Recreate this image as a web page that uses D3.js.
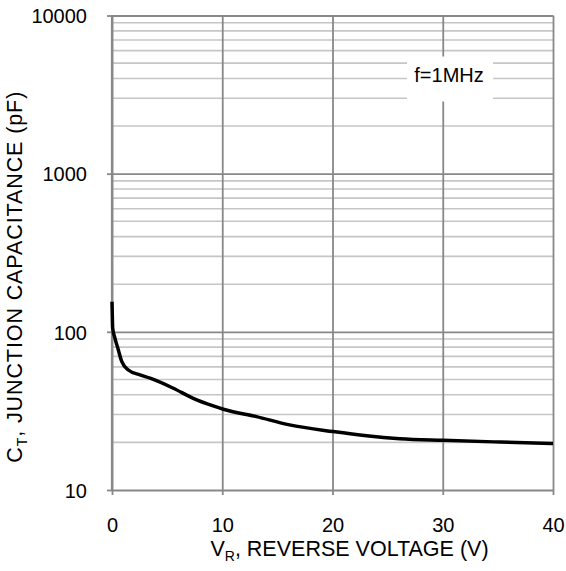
<!DOCTYPE html>
<html>
<head>
	<script src='https://d3js.org/d3.v7.min.js'></script>
	<style type="text/css">
		body { margin: 0; background: #fff; }
		text { font-family: 'Liberation Sans', Arial, sans-serif; fill: #000; }
		.domain { display: none; }
	</style>
</head>
<body>
	<script type="text/javascript">
		// values
		var voltage = [0, 0.03, 0.06, 0.27, 0.57, 0.88, 1.48, 2.54, 3.45, 5.56, 7.37, 9.18, 10.1, 13.1, 16.1, 20.06, 23.1, 26.1, 30.04, 35.2, 40];
		var capacitance = [155, 125, 106, 91, 77, 65, 57.4, 53.4, 50.9, 44, 38, 34, 32.4, 29.1, 25.8, 23.4, 22, 21.1, 20.6, 20.1, 19.7];
		var xTicks = [0, 10, 20, 30, 40];
		var yTicks = [10, 100, 1000, 10000];
		var note = 'f=1MHz';

		var margin = { top: 15.5, left: 112, right: 13, bottom: 81 };
		var dim = { w: 566 - margin.left - margin.right, h: 571 - margin.top - margin.bottom };

		var dark = '#888', light = '#c6c6c6';

		var svg = d3.select('body')
			.append('svg')
				.attr('width', 566)
				.attr('height', 571)
			.append('g')
				.attr('transform', 'translate(' + margin.left + ',' + margin.top + ')');

		var x = d3.scaleLinear().domain([0, 40]).range([0, dim.w]),
			y = d3.scaleLog().domain([10, 10000]).range([dim.h, 0]);

		/** minor horizontal grid **/
		svg.append('g')
			.selectAll('line')
				.data(y.ticks().filter(function(d) { return yTicks.indexOf(d) < 0; })).enter()
			.append('line')
				.attr('x1', 0).attr('x2', dim.w)
				.attr('y1', function(d) { return y(d); })
				.attr('y2', function(d) { return y(d); })
				.attr('stroke', light)
				.attr('stroke-width', 1.6);

		/** major grid + ticks **/
		var yAxis = svg.append('g')
			.call(d3.axisLeft(y).tickValues(yTicks).tickSize(5).tickPadding(20).tickFormat(d3.format('d')));
		yAxis.selectAll('.tick line').attr('stroke', dark).attr('stroke-width', 1.8);
		yAxis.selectAll('.tick').append('line')
			.attr('x1', 0).attr('x2', dim.w)
			.attr('stroke', dark).attr('stroke-width', 1.8);
		yAxis.selectAll('text').style('font-size', '20px').attr('dy', '0.36em');

		var xAxis = svg.append('g')
			.attr('transform', 'translate(0,' + dim.h + ')')
			.call(d3.axisBottom(x).tickValues(xTicks).tickSize(5).tickPadding(23));
		xAxis.selectAll('.tick line').attr('stroke', dark).attr('stroke-width', 1.8);
		xAxis.selectAll('.tick').append('line')
			.attr('y1', 0).attr('y2', -dim.h)
			.attr('stroke', dark).attr('stroke-width', 1.8);
		xAxis.selectAll('text').style('font-size', '20px');

		// left axis drawn a bit heavier
		svg.append('line')
			.attr('x1', 0).attr('x2', 0).attr('y1', 0).attr('y2', dim.h)
			.attr('stroke', dark).attr('stroke-width', 2.2);

		/** frequency note **/
		svg.append('rect')
			.attr('x', 295).attr('y', 41)
			.attr('width', 86).attr('height', 45)
			.attr('fill', '#fff');
		svg.append('text')
			.attr('x', 337).attr('y', 66)
			.attr('text-anchor', 'middle')
			.style('font-size', '20px')
			.text(note);

		/** curve **/
		var line = d3.line()
			.x(function(d, i) { return x(voltage[i]); })
			.y(function(d) { return y(d); })
			.curve(d3.curveMonotoneX);
		svg.append('path')
			.datum(capacitance)
			.attr('d', line)
			.attr('fill', 'none')
			.attr('stroke', '#000')
			.attr('stroke-width', 3.5)
			.attr('stroke-linejoin', 'round');

		/** axis titles **/
		var xt = svg.append('text')
			.attr('x', dim.w / 2 + 17).attr('y', dim.h + 66)
			.attr('text-anchor', 'middle')
			.style('font-size', '21.5px');
		xt.append('tspan').text('V');
		xt.append('tspan').attr('dy', 5).style('font-size', '14px').text('R');
		xt.append('tspan').attr('dy', -5).text(', REVERSE VOLTAGE (V)');

		var yt = svg.append('text')
			.attr('transform', 'translate(' + (-90) + ',' + (dim.h / 2 + 24) + ') rotate(-90)')
			.attr('text-anchor', 'middle')
			.style('font-size', '21.5px')
			.style('letter-spacing', '0.9px');
		yt.append('tspan').text('C');
		yt.append('tspan').attr('dy', 5).style('font-size', '14px').text('T');
		yt.append('tspan').attr('dy', -5).text(', JUNCTION CAPACITANCE (pF)');
	</script>
</body>
</html>
